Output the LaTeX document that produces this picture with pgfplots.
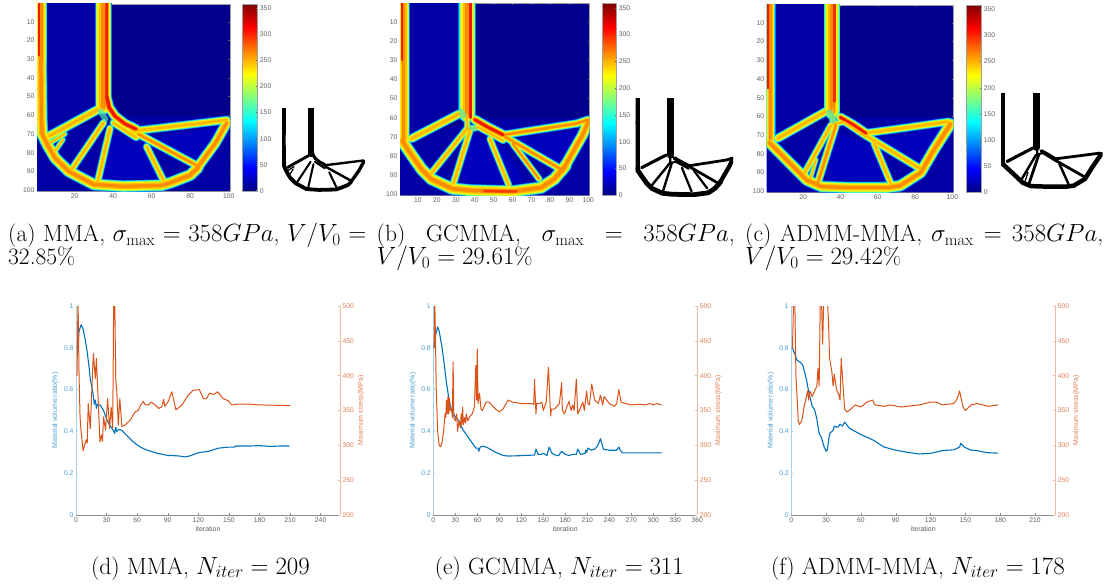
\documentclass[border=0pt]{standalone}
\usepackage{fontspec}
\usepackage{pgfplots}
\usepackage{pgfplotstable}
\pgfplotsset{compat=1.18}
\newfontfamily\lib{Liberation Sans}
\pgfkeys{/pgf/number format/assume math mode=true}
\definecolor{Lhalo}{HTML}{0070FF}
\definecolor{Lcyan}{HTML}{20E8D8}
\definecolor{Lgreen}{HTML}{A0FF60}
\definecolor{LY}{HTML}{FFF000}
\definecolor{Lyellow}{HTML}{FFB800}
\definecolor{Lorange}{HTML}{FF8C00}
\definecolor{Lred}{HTML}{F01800}
\definecolor{Lblot}{HTML}{50E8B0}
\definecolor{bgA}{HTML}{00008C}
\definecolor{bgB}{HTML}{0000A4}
\definecolor{bgC}{HTML}{0000BC}
\definecolor{mblue}{HTML}{0072BD}
\definecolor{morange}{HTML}{D95319}
\definecolor{lblue}{HTML}{A6D0EC}
\definecolor{lorange}{HTML}{F2B8A0}
\definecolor{tickgray}{HTML}{606060}
\pgfplotsset{
 colormap={myjet}{rgb255(0cm)=(0,0,130) rgb255(1cm)=(0,0,255) rgb255(3cm)=(0,255,255) rgb255(5cm)=(255,255,0) rgb255(7cm)=(255,0,0) rgb255(8cm)=(128,0,0)},
 every axis plot/.append style={line join=round,line cap=round},
 heat/.style n args={3}{scale only axis,clip=true,width=#1,height=#2,
   xmin=0.5,xmax=100.5,ymin=0.5,ymax=100.5,y dir=reverse,
   axis background/.style={fill=bgA},
   ytick={10,20,...,100},
   tick align=inside,major tick length=1.5pt,
   tick style={draw=tickgray,line width=0.3pt},
   axis line style={draw=tickgray!60,line width=0.3pt},
   ticklabel style={font=\lib\fontsize{6.8}{8}\selectfont,text=tickgray},
   xticklabel style={yshift=1pt},
   yticklabel style={xshift=1pt},
   colorbar,colormap name=myjet,point meta min=0,point meta max=358,
   colorbar style={scale only axis,width=#3,height=#2,
     at={(parent axis.north east)},anchor=north west,xshift=4.2pt,
     ytick={0,50,...,350},ytick pos=right,
     major tick length=1.5pt,tick align=inside,
     tick style={draw=tickgray,line width=0.3pt},
     axis line style={draw=tickgray!60,line width=0.3pt},
     yticklabel style={font=\lib\fontsize{6.8}{8}\selectfont,text=tickgray,xshift=-1pt}}},
 binary/.style 2 args={scale only axis,hide axis,clip=true,width=#1,height=#2,
   xmin=0.5,xmax=100.5,ymin=0.5,ymax=100.5,y dir=reverse},
 leftax/.style={scale only axis,width=264pt,height=209pt,ymin=0,ymax=1,
   axis y line*=left,axis x line*=bottom,
   ytick={0,0.2,0.4,0.6,0.8,1},
   tick align=inside,major tick length=2pt,
   y axis line style={draw=lblue,line width=0.5pt},
   x axis line style={draw=black!45,line width=0.4pt},
   ytick style={draw=lblue,line width=0.4pt},
   xtick style={draw=black!45,line width=0.4pt},
   yticklabel style={font=\lib\fontsize{6.8}{8}\selectfont,text=mblue!70,xshift=1pt},
   xticklabel style={font=\lib\fontsize{6.8}{8}\selectfont,text=tickgray,yshift=1pt},
   xlabel={iteration},ylabel={Material volume ratio(\%)},
   xlabel style={font=\lib\fontsize{7}{8}\selectfont,text=tickgray,yshift=3pt},
   ylabel style={font=\lib\fontsize{7}{8}\selectfont,text=mblue!70,yshift=-1.5pt}},
 rightax/.style={scale only axis,width=264pt,height=209pt,ymin=200,ymax=500,
   axis y line*=right,axis x line=none,
   ytick={200,250,...,500},
   tick align=inside,major tick length=2pt,
   y axis line style={draw=lorange,line width=0.5pt},
   ytick style={draw=lorange,line width=0.4pt},
   yticklabel style={font=\lib\fontsize{6.8}{8}\selectfont,text=morange!75,xshift=-1pt},
   ylabel={Maximum stress(MPa)},
   ylabel style={font=\lib\fontsize{7}{8}\selectfont,text=morange!75,yshift=3pt}},
 curveB/.style={draw=mblue,line width=1.1pt},
 curveO/.style={draw=morange,line width=1.0pt}
}
% one layer per command: width (data units), core colour, path
\newcommand\Mhalo[3]{\addplot[draw=Lhalo,line width={(#1+1.5)*\sc*1pt}] coordinates {#3};}
\newcommand\Mcyan[3]{\addplot[draw=Lcyan,line width={(#1+0.9)*\sc*1pt}] coordinates {#3};}
\newcommand\Mgreen[3]{\addplot[draw=Lgreen,line width={(#1+0.2)*\sc*1pt}] coordinates {#3};}
\newcommand\Myellow[3]{\addplot[draw=LY,line width={(#1*0.85)*\sc*1pt}] coordinates {#3};}
\newcommand\Mmid[3]{\addplot[draw=#2!50!LY,line width={(#1*0.62)*\sc*1pt}] coordinates {#3};}
\newcommand\Mcore[3]{\addplot[draw=#2,line width={(#1*0.36)*\sc*1pt}] coordinates {#3};}
\newcommand\Mblack[3]{\addplot[draw=black,line width={(#1*0.95)*\sc*1pt}] coordinates {#3};}
\newcommand\HeatLayers[1]{#1\Mhalo #1\Mcyan #1\Mgreen #1\Myellow #1\Mmid #1\Mcore}
\newcommand\membersA[1]{%
 #1{5.0}{Lorange}{(2.5,0)(2.5,30)}
 #1{5.0}{Lorange}{(2.5,30)(2.8,62)(3.2,70)}
 #1{4.8}{Lorange}{(3.2,70)(6,76)(10,83)(17,90)(30,97)(45,98)(65,97.5)(70,96)(80,92)(84,88)}
 #1{4.2}{Lorange}{(83,89)(93,75)(99,64)}
 #1{3.0}{Lyellow}{(50,68.5)(75,65.5)(99,62.5)}
 #1{7.4}{Lorange}{(35,0)(35,55)}
 #1{4.0}{Lred}{(36.5,50)(38,56)(41,60.5)(46,64.5)(52,67.5)}
 #1{3.6}{Lyellow}{(32,57)(7,71)}
 #1{1.6}{Lyellow}{(7,75)(15,70)}
 #1{1.6}{Lyellow}{(10,79)(14,73)}
 #1{2.6}{Lyellow}{(18.5,89)(35,64)}
 #1{2.6}{Lyellow}{(32,95.5)(38.4,67)}
 #1{2.6}{Lyellow}{(57.4,76.8)(66,94.6)}
 #1{3.0}{Lorange}{(53,70)(83,86.6)}
 #1{2.4}{Lyellow}{(40,64)(52,72)}
}
\newcommand\membersB[1]{%
 #1{5.0}{Lorange}{(2.5,0)(2.5,25)}
 #1{5.0}{Lorange}{(2.5,25)(2.5,72)}
 #1{5.2}{Lorange}{(1.5,72)(7,80)(12,87)(17,92)(28,97)(38,98)(60,98.5)(75,96.5)(82,92)(88,85)}
 #1{4.6}{Lorange}{(86,88)(97,69)(100,62)}
 #1{3.0}{Lorange}{(55,69)(94,63)(100,61)}
 #1{7.8}{Lorange}{(36,0)(36,58)}
 #1{4.0}{Lred}{(40,61)(47,65)(55,69)}
 #1{3.4}{Lyellow}{(32,57.9)(6.6,70.9)}
 #1{3.0}{Lorange}{(56,70)(85,86.6)}
 #1{2.4}{Lyellow}{(48,71)(58,95.3)}
 #1{2.4}{Lorange}{(60,73.5)(74,92)}
 #1{2.6}{Lyellow}{(36,65.7)(17,89)}
 #1{2.6}{Lyellow}{(37.5,66.6)(28.7,94.4)}
 #1{2.2}{Lyellow}{(36,58)(36,66)(42,65)(55,72)}
}
\newcommand\membersC[1]{%
 #1{4.4}{Lorange}{(2.3,0)(2.3,40)}
 #1{4.4}{Lorange}{(2.3,40)(2.3,72)}
 #1{4.8}{Lorange}{(2,74)(12,84)(22,94)(30,97.5)(45,98)(65,98)(72,97)(83,90)(90,78)(99,64)}
 #1{3.0}{Lyellow}{(53,69)(75,66)(98,62.8)}
 #1{7.4}{Lorange}{(35.5,0)(35.5,57)}
 #1{3.8}{Lred}{(40,60.5)(47,64.5)(53.7,69)}
 #1{3.4}{Lyellow}{(32,57.4)(6.4,71.7)}
 #1{3.0}{Lyellow}{(54.6,70.8)(83,88)}
 #1{2.6}{Lyellow}{(58,74.3)(67,95.7)}
 #1{2.6}{Lyellow}{(35,64.6)(20.7,90.4)}
 #1{3.0}{Lorange}{(37.6,64.6)(27.8,95.7)}
 #1{1.4}{Lyellow}{(27,83)(24,93)}
 #1{2.2}{Lyellow}{(36,56)(36,64)(42,63)(54,71)}
}
\newcommand\Bg{%
 \addplot[fill=bgB,draw=none] coordinates {(5,0)(32,0)(32,58)(5,72)} --cycle;
 \addplot[fill=bgB,draw=none] coordinates {(40,60.3)(100.5,60.3)(100.5,100.5)(0.5,100.5)(0.5,72)(38,62)} --cycle;
 \addplot[fill=bgC,draw=none] coordinates {(36,68)(56,75)(66,94)(33,94)} --cycle;
 \addplot[fill=bgC,draw=none] coordinates {(58,72)(96,66)(84,84)} --cycle;
}
\pgfplotstableread{
x y
1 0.80
2 0.82
3 0.88
5 0.91
7 0.89
9 0.84
11 0.78
13 0.70
14 0.65
16 0.60
17 0.57
18 0.53
19 0.55
20 0.51
21 0.53
24 0.525
27 0.50
30 0.46
33 0.43
36 0.41
38 0.39
39 0.42
40 0.40
42 0.41
45 0.405
50 0.38
55 0.355
60 0.335
65 0.32
70 0.31
80 0.295
90 0.285
100 0.283
107 0.278
112 0.283
120 0.298
130 0.305
140 0.32
150 0.325
155 0.325
157 0.33
170 0.33
180 0.332
190 0.328
200 0.33
209 0.33
}\dB
\pgfplotstableread{
x y
1 400
2 510
3 400
4 340
5 320
7 292
8 298
10 308
11 303
12 360
14 324
17 432
19 396
20 425
22 358
23.5 305
25 315
26 306
27 341
29 322
31 367
33 324
34.5 355
36 324
37 510
38 510
39 396
40 377
41.5 329
43 367
45 327
48 329
53 336
58 348
61 350
63.5 358
66 363
68 358
71 358
74 362
77.5 358
81 353
84 355
86 366
87 356
90.6 363
94 377
98 351
104 358
107 365
110 372
115 379
121 380
125 367
128 367
131 375
135 373
139 377
144.5 367
149.4 364
152.7 358
158 359
171 359
180 358
210 357
}\dO
\pgfplotstableread{
x y
1 0.80
3 0.86
6 0.90
8 0.88
12 0.80
15 0.72
18 0.63
22 0.54
26 0.49
30 0.47
35 0.45
40 0.41
50 0.36
58 0.32
61 0.32
62 0.305
64 0.325
68 0.33
75 0.32
85 0.30
95 0.285
102 0.282
120 0.284
138 0.287
140 0.315
143 0.29
147 0.29
150 0.295
155 0.285
158 0.325
162 0.295
168 0.284
171 0.285
175 0.305
180 0.29
185 0.285
190 0.29
195 0.29
197 0.315
201 0.29
207 0.295
208 0.31
209 0.30
211 0.32
215 0.31
220 0.315
224 0.33
228 0.365
232 0.315
240 0.31
250 0.31
253 0.325
255 0.31
258 0.297
270 0.297
311 0.297
}\eB
\pgfplotstableread{
x y
1 440
2 510
3 450
4 380
6 320
8 300
10 298
12 305
14 320
16 345
17 340
18 365
19 345
20 370
21 345
22 368
23 350
25 352
26 340
27 420
28 340
30 335
32 345
33 320
35 335
37 325
38 345
39 330
40 355
41 330
43 340
44 332
45 345
47 335
50 342
53 345
56 355
58 415
59 365
60 438
61 360
63 375
65 352
67 350
72 362
76 362
85 352
90 348
95 352
102 365
108 362
120 360
136 360
137 358
138 395
140 345
141 360
145 360
148 362
150 350
154 362
157 412
160 342
161 352
165 352
172 360
175 390
176 350
179 345
182 355
185 363
188 350
190 358
192 350
195 395
197 345
200 352
204 362
206 350
209 378
211 360
213 358
216 388
220 365
225 360
228 372
231 358
233 370
240 360
247 356
250 360
253 380
256 362
262 360
270 358
280 359
290 358
295 360
300 358
305 360
311 358
}\eO
\pgfplotstableread{
x y
1 0.80
3 0.77
5 0.74
8 0.73
10 0.715
13 0.65
15 0.59
18 0.52
20 0.505
22 0.46
24 0.39
26 0.37
28 0.33
30 0.305
31 0.31
33 0.39
36 0.405
37 0.425
40 0.42
42 0.435
44 0.425
46 0.445
50 0.415
60 0.385
70 0.36
80 0.325
90 0.31
100 0.30
110 0.292
120 0.295
130 0.308
140 0.312
145 0.325
146 0.343
149 0.325
155 0.31
160 0.308
165 0.302
170 0.298
178 0.296
}\fB
\pgfplotstableread{
x y
1 440
2 510
3 510
4 400
6 335
7 330
9 335
11 355
13 370
14 378
15 365
16 378
18 370
20 378
22 385
23 410
24 385
25 510
26 510
27 445
28 510
31 510
32 480
33 425
35 405
36 385
37 402
39 380
41 372
42 365
43 425
45 375
46 352
48 348
50 350
55 358
60 355
65 362
70 365
72 358
80 356
85 358
95 355
110 358
120 362
125 362
130 358
140 360
143 367
145 378
148 355
150 350
155 358
160 360
165 358
170 356
178 358
}\fO
\begin{document}
\begin{tikzpicture}
\path[use as bounding box] (0,0) rectangle (1106pt,587pt);
% ---- heat maps
\def\sc{1.92}
\begin{axis}[heat={192.7pt}{187pt}{15pt},at={(37pt,396pt)},anchor=south west,xtick={20,40,...,100}]
 \Bg
 \HeatLayers\membersA
 \addplot[draw=Lblot,opacity=0.7,line width=6pt] coordinates {(33.5,58)(36,62)};
 \addplot[draw=Lred,line width=3pt] coordinates {(36.8,0)(36.8,50)(38,56)(41,60.5)};
 \addplot[draw=Lred,line width=2pt] coordinates {(1.3,0)(1.3,28)};
\end{axis}
\def\sc{1.89}
\begin{axis}[heat={189.3pt}{191.7pt}{14.3pt},at={(400pt,391.7pt)},anchor=south west,xtick={10,20,...,100}]
 \Bg
 \HeatLayers\membersB
 \addplot[draw=Lblot,opacity=0.7,line width=6pt] coordinates {(33,57)(34,59)};
 \addplot[draw=Lblot,opacity=0.7,line width=5pt] coordinates {(38,65)(40,66)};
 \addplot[draw=Lred,line width=3pt] coordinates {(38,0)(38,60)};
 \addplot[draw=Lred,line width=2pt] coordinates {(1.3,0)(1.3,30)};
 \addplot[draw=Lred!70!Lorange,line width=2.5pt] coordinates {(45,98.3)(62,98.5)};
\end{axis}
\def\sc{1.87}
\begin{axis}[heat={186.6pt}{187.3pt}{15.3pt},at={(766.7pt,394.7pt)},anchor=south west,xtick={20,40,...,100}]
 \Bg
 \HeatLayers\membersC
 \addplot[draw=Lblot,opacity=0.7,line width=7pt] coordinates {(34,58)(36,62)};
 \addplot[draw=Lred!80!Lorange,line width=3pt] coordinates {(37,0)(37,52)};
 \addplot[draw=Lred,line width=2pt] coordinates {(1.3,0)(1.3,45)};
\end{axis}
% ---- binary designs
\def\sc{0.83}
\begin{axis}[binary={83pt}{83pt},at={(282pt,395pt)},anchor=south west]
 \membersA\Mblack
\end{axis}
\def\sc{0.97}
\begin{axis}[binary={97.3pt}{98pt},at={(635.7pt,390.3pt)},anchor=south west]
 \membersB\Mblack
\end{axis}
\def\sc{0.98}
\begin{axis}[binary={101.7pt}{95.3pt},at={(1001pt,398pt)},anchor=south west]
 \membersC\Mblack
\end{axis}
% ---- histories
\begin{axis}[leftax,at={(76pt,72pt)},anchor=south west,xmin=0,xmax=259,xtick={0,30,...,240}]
 \addplot[curveB] table[x=x,y=y] {\dB};
\end{axis}
\begin{axis}[rightax,at={(76pt,72pt)},anchor=south west,xmin=0,xmax=259]
 \addplot[curveO] table[x=x,y=y] {\dO};
\end{axis}
\begin{axis}[leftax,at={(433.3pt,72pt)},anchor=south west,xmin=0,xmax=360,xtick={0,30,...,360}]
 \addplot[curveB] table[x=x,y=y] {\eB};
\end{axis}
\begin{axis}[rightax,at={(433.3pt,72pt)},anchor=south west,xmin=0,xmax=360]
 \addplot[curveO] table[x=x,y=y] {\eO};
\end{axis}
\begin{axis}[leftax,at={(791.3pt,72pt)},anchor=south west,xmin=0,xmax=227.5,xtick={0,30,...,210}]
 \addplot[curveB] table[x=x,y=y] {\fB};
\end{axis}
\begin{axis}[rightax,at={(791.3pt,72pt)},anchor=south west,xmin=0,xmax=227.5]
 \addplot[curveO] table[x=x,y=y] {\fO};
\end{axis}
% ---- captions
\tikzset{capl/.style={anchor=base west,inner sep=0pt,font=\fontsize{23.5}{28}\selectfont,text=black}}
\node[capl] at (8pt,345pt) {\makebox[358pt][s]{(a) MMA, $\sigma_{\max}=358GPa$, $V/V_0=$}};
\node[capl] at (8pt,322pt) {32.85\%};
\node[capl] at (376.5pt,345pt) {\makebox[358pt][s]{(b)\hfill GCMMA,\hfill $\sigma_{\max}$\hfill $=$\hfill $358GPa$,}};
\node[capl] at (376.5pt,322pt) {$V/V_0=29.61\%$};
\node[capl] at (745pt,345pt) {\makebox[358pt][s]{(c) ADMM-MMA, $\sigma_{\max}=358GPa$,}};
\node[capl] at (745pt,322pt) {$V/V_0=29.42\%$};
\tikzset{capc/.style={anchor=base east,inner sep=0pt,font=\fontsize{23.5}{28}\selectfont,text=black}}
\node[capc] at (310pt,13pt) {(d) MMA, $N_{iter}=209$};
\node[capc] at (684pt,13pt) {(e) GCMMA, $N_{iter}=311$};
\node[capc] at (1065pt,13pt) {(f) ADMM-MMA, $N_{iter}=178$};
\end{tikzpicture}
\end{document}
